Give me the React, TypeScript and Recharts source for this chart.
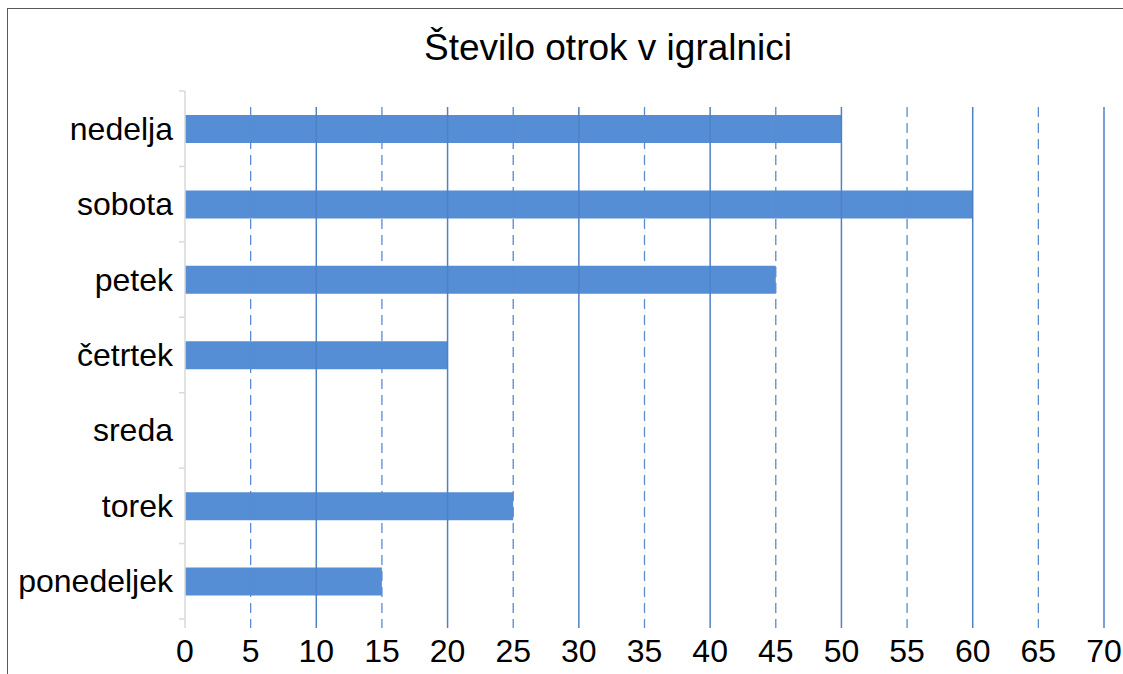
import React from "react";
import { BarChart, Bar, XAxis, YAxis, ReferenceLine } from "recharts";

const days = ["nedelja", "sobota", "petek", "četrtek", "sreda", "torek", "ponedeljek"];
const children = [50, 60, 45, 20, 0, 25, 15];
const xTicks = [0, 5, 10, 15, 20, 25, 30, 35, 40, 45, 50, 55, 60, 65, 70];
const solidGrid = [10, 20, 30, 40, 50, 60, 70];
const dashedGrid = [5, 15, 25, 35, 45, 55, 65];
const title = "Število otrok v igralnici";

const data = days.map((d, i) => ({ name: d, value: children[i] }));

const W = 1123;
const H = 674;
const TOP = 91;
const BOTTOM = 619;
const BAND = (BOTTOM - TOP) / days.length;
const FONT = "Liberation Sans, Arial, sans-serif";
const GRID_TOP = 107;
const GRID_BOTTOM = 628;

const YTick = (props: any) => {
  const { y, payload, index } = props;
  const ax = 185;
  return (
    <g>
      <text x={173} y={y} textAnchor="end" dominantBaseline="central" fontSize={32} fontFamily={FONT} fill="#000">
        {payload.value}
      </text>
      <line x1={ax - 6} x2={ax} y1={y - BAND / 2} y2={y - BAND / 2} stroke="#d9d9d9" strokeWidth={1.5} />
      {index === days.length - 1 && (
        <line x1={ax - 6} x2={ax} y1={y + BAND / 2} y2={y + BAND / 2} stroke="#d9d9d9" strokeWidth={1.5} />
      )}
    </g>
  );
};

const XTick = (props: any) => {
  const { x, payload } = props;
  return (
    <text x={x} y={662} textAnchor="middle" fontSize={32} fontFamily={FONT} fill="#000">
      {payload.value}
    </text>
  );
};

const gridShape = (stroke: string, width: number, dash?: string) => (p: any) => (
  <line x1={p.x1} x2={p.x2} y1={GRID_TOP} y2={GRID_BOTTOM} stroke={stroke} strokeWidth={width} strokeDasharray={dash} />
);

const axisShape = (p: any) => (
  <line x1={p.x1} x2={p.x2} y1={TOP} y2={GRID_BOTTOM} stroke="#d9d9d9" strokeWidth={1.5} />
);

export default function App() {
  return (
    <div style={{ position: "absolute", left: 0, top: 0, width: W, height: H, overflow: "hidden", background: "#fff" }}>
      <div
        style={{
          position: "absolute",
          left: 7,
          top: 8,
          width: 1300,
          height: 900,
          borderLeft: "1.5px solid #595959",
          borderTop: "1.5px solid #595959",
        }}
      />
      <div style={{ position: "absolute", left: 0, top: 0 }}>
        <BarChart
          width={W}
          height={H}
          data={data}
          layout="vertical"
          margin={{ top: TOP, right: 19, bottom: 0, left: 0 }}
          barCategoryGap={0}
        >
          <text x={608} y={60} textAnchor="middle" fontSize={37} fontFamily={FONT} fill="#000">
            {title}
          </text>
          <XAxis
            type="number"
            domain={[0, 70]}
            ticks={xTicks}
            axisLine={false}
            tickLine={false}
            height={H - BOTTOM}
            tick={<XTick />}
            interval={0}
          />
          <YAxis
            type="category"
            dataKey="name"
            width={185}
            axisLine={false}
            tickLine={false}
            tick={<YTick />}
            interval={0}
          />
          <ReferenceLine x={0} ifOverflow="visible" shape={axisShape} />
          {dashedGrid.map((v) => (
            <ReferenceLine key={"d" + v} x={v} ifOverflow="visible" shape={gridShape("#5a8ad0", 1.3, "10 6")} />
          ))}
          {solidGrid.map((v) => (
            <ReferenceLine key={"s" + v} x={v} ifOverflow="visible" shape={gridShape("#4f81c5", 1.5)} />
          ))}
          <Bar dataKey="value" fill="#558ed5" barSize={28} isAnimationActive={false} />
        </BarChart>
      </div>
    </div>
  );
}
